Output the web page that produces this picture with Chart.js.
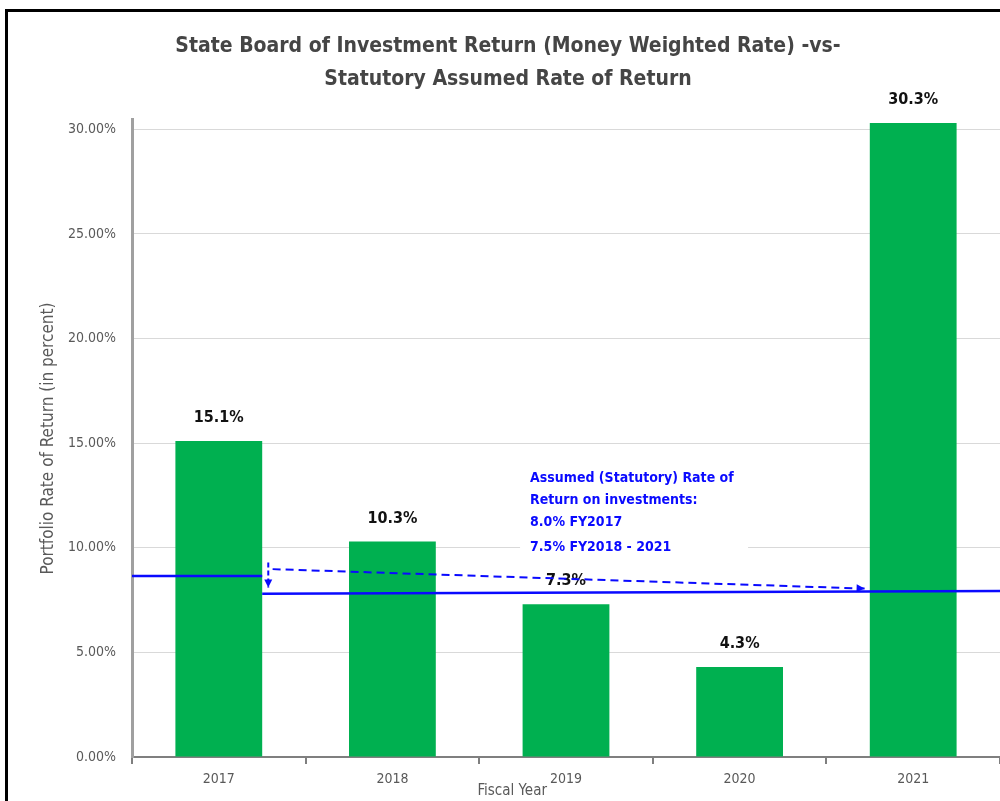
<!DOCTYPE html>
<html>
<head>
<meta charset="utf-8">
<script src="https://cdn.jsdelivr.net/npm/chart.js@4/dist/chart.umd.min.js"></script>
<style>
  html, body { margin: 0; padding: 0; background: #fff; overflow: hidden; }
  #wrap { position: relative; width: 1000px; height: 801px; }
  #frame { position: absolute; left: 5px; top: 9px; width: 1100px; height: 900px;
           border-left: 3px solid #000; border-top: 3px solid #000; pointer-events: none; }
</style>
</head>
<body>
<div id="wrap">
  <canvas id="c" width="1000" height="801"></canvas>
  <div id="frame"></div>
</div>
<script>
// ---- data ----
const fiscalYears = ['2017', '2018', '2019', '2020', '2021'];
const portfolioReturns = [15.1, 10.3, 7.3, 4.3, 30.3];
const yTicks = [0, 5, 10, 15, 20, 25, 30];
// assumed-rate reference lines, in (category position, percent) as drawn
const assumedLine2017 = [{x: -0.5, y: 8.65}, {x: 0.25, y: 8.65}];
const assumedLine2018to2021 = [{x: 0.25, y: 7.8}, {x: 4.5, y: 7.93}];
const dashedArrow = [{x: 0.31, y: 8.98}, {x: 3.72, y: 8.05}];
const downArrow = [{x: 0.285, y: 9.3}, {x: 0.285, y: 8.1}];
const noteLines = ['Assumed (Statutory) Rate of', 'Return on investments:', '8.0% FY2017', '7.5% FY2018 - 2021'];
const titleLines = ['State Board of Investment Return (Money Weighted Rate) -vs-', 'Statutory Assumed Rate of Return'];

const FONT = "'Liberation Sans Narrow', 'DejaVu Sans Condensed', 'Liberation Sans', sans-serif";
const BLUE = '#0a0aff';
const GREEN = '#00b050';

const labelPlugin = {
  id: 'barLabels',
  afterDatasetDraw(chart, args) {
    if (args.index !== 0) return;
    const ctx = chart.ctx;
    ctx.save();
    ctx.font = 'bold 16px ' + FONT;
    ctx.fillStyle = '#111';
    ctx.textAlign = 'center';
    ctx.textBaseline = 'middle';
    args.meta.data.forEach((bar, i) => {
      ctx.fillText(portfolioReturns[i].toFixed(1) + '%', bar.x, bar.y - 23);
    });
    ctx.restore();
  }
};

const arrowPlugin = {
  id: 'arrows',
  afterDatasetsDraw(chart) {
    const ctx = chart.ctx;
    chart.data.datasets.forEach((ds, i) => {
      if (!ds.arrowHead) return;
      const pts = chart.getDatasetMeta(i).data;
      const a = pts[pts.length - 2], b = pts[pts.length - 1];
      const ang = Math.atan2(b.y - a.y, b.x - a.x);
      const L = 8, W = 4;
      ctx.save();
      ctx.fillStyle = BLUE;
      ctx.beginPath();
      ctx.moveTo(b.x, b.y);
      ctx.lineTo(b.x - L * Math.cos(ang) + W * Math.sin(ang), b.y - L * Math.sin(ang) - W * Math.cos(ang));
      ctx.lineTo(b.x - L * Math.cos(ang) - W * Math.sin(ang), b.y - L * Math.sin(ang) + W * Math.cos(ang));
      ctx.closePath();
      ctx.fill();
      ctx.restore();
    });
  }
};

const notePlugin = {
  id: 'note',
  beforeDatasetsDraw(chart) {
    const ctx = chart.ctx;
    const xs = chart.scales.xl, ys = chart.scales.y;
    const x0 = xs.getPixelForValue(1.793);
    const yTop = ys.getPixelForValue(13.33);
    ctx.save();
    ctx.fillStyle = '#fff';
    ctx.fillRect(x0 - 10, yTop - 14, 228, 96);
    ctx.font = 'bold 14px ' + FONT;
    ctx.fillStyle = BLUE;
    ctx.textAlign = 'left';
    ctx.textBaseline = 'middle';
    const gaps = [0, 22, 44, 69];
    noteLines.forEach((t, i) => ctx.fillText(t, x0, yTop + gaps[i]));
    ctx.restore();
  },
  afterDraw(chart) {
    const ctx = chart.ctx;
    const xs = chart.scales.xl;
    ctx.save();
    ctx.font = '15px ' + FONT;
    ctx.fillStyle = '#595959';
    ctx.textAlign = 'center';
    ctx.textBaseline = 'middle';
    ctx.fillText('Fiscal Year', xs.getPixelForValue(1.69), chart.chartArea.bottom + 34);
    ctx.restore();
  }
};

const lineDs = (data, dashed) => ({
  type: 'line', data, xAxisID: 'xl', yAxisID: 'y',
  borderColor: BLUE, backgroundColor: BLUE, borderWidth: 2.5,
  borderDash: dashed ? [8, 5] : [], pointRadius: 0, fill: false, tension: 0, order: 0, clip: false
});

new Chart(document.getElementById('c'), {
  type: 'bar',
  data: {
    labels: fiscalYears,
    datasets: [
      { type: 'bar', data: portfolioReturns, backgroundColor: GREEN, borderWidth: 0, grouped: false,
        categoryPercentage: 1, barPercentage: 0.5, order: 5, xAxisID: 'x', yAxisID: 'y' },
      lineDs(assumedLine2017, false),
      lineDs(assumedLine2018to2021, false),
      Object.assign(lineDs(dashedArrow, true), { arrowHead: true, borderWidth: 2 }),
      Object.assign(lineDs(downArrow, true), { arrowHead: true, borderWidth: 2, borderDash: [5, 3] })
    ]
  },
  options: {
    responsive: false,
    animation: false,
    layout: { padding: { left: 16, right: 0, top: 0, bottom: 0 } },
    plugins: {
      legend: { display: false },
      tooltip: { enabled: false },
      title: {
        display: true, text: titleLines, color: '#454545',
        font: { family: FONT, size: 21, weight: 'bold', lineHeight: 1.57 },
        padding: { top: 30, bottom: 24 }
      }
    },
    scales: {
      x: {
        type: 'category', position: 'bottom',
        grid: { display: true, drawOnChartArea: false, drawTicks: true, tickLength: 7, color: '#7f7f7f', lineWidth: 2, offset: true },
        border: { display: true, color: '#7f7f7f', width: 2 },
        ticks: { color: '#595959', font: { family: FONT, size: 14 }, padding: 7 },
        afterFit(s) { s.height = 44; }
      },
      xl: { type: 'linear', min: -0.5, max: 4.5, display: false, offset: false, grid: { offset: false } },
      y: {
        min: 0, max: 30.45,
        ticks: { stepSize: 5, color: '#595959', font: { family: FONT, size: 14 }, padding: 16,
                 callback: v => v.toFixed(2) + '%' },
        afterBuildTicks(s) { s.ticks = yTicks.map(v => ({ value: v })); },
        grid: { color: '#d9d9d9', lineWidth: 1, drawTicks: false },
        border: { display: true, color: '#a0a0a0', width: 3 },
        title: { display: true, text: 'Portfolio Rate of Return (in percent)', color: '#595959',
                 font: { family: FONT, size: 17 }, padding: { top: 22, bottom: 0 } },
        afterFit(s) { s.width = 116; }
      }
    }
  },
  plugins: [labelPlugin, arrowPlugin, notePlugin]
});
</script>
</body>
</html>
